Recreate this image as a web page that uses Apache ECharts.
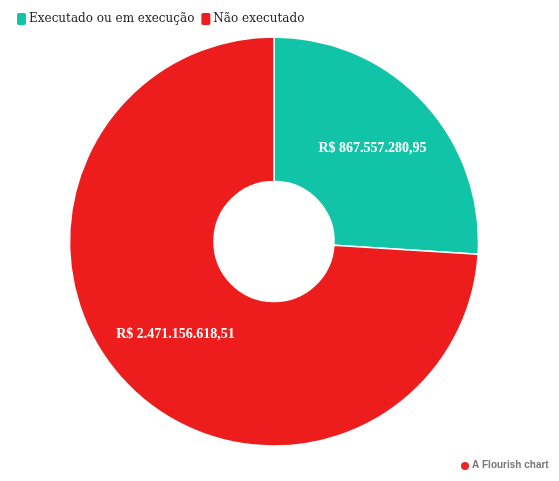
<!DOCTYPE html>
<html>
<head>
<meta charset="utf-8">
<script src="https://cdn.jsdelivr.net/npm/echarts@6/dist/echarts.min.js"></script>
<style>
  html, body { margin: 0; padding: 0; background: #fff; }
  #chart { width: 559px; height: 481px; }
</style>
</head>
<body>
<div id="chart"></div>
<script>
  const categories = ['Executado ou em execução', 'Não executado']
  const values = [867557280.95, 2471156618.51]
  const colors = ['#12c4a7', '#ee1d1d']

  // R$ 1.234.567,89
  function brl (v) {
    const parts = v.toFixed(2).split('.')
    const int = parts[0].replace(/\B(?=(\d{3})+(?!\d))/g, '.')
    return 'R$ ' + int + ',' + parts[1]
  }

  const chart = echarts.init(document.getElementById('chart'))
  const option = {
    animation: false,
    color: colors,
    legend: {
      left: 15,
      top: 11,
      padding: 0,
      icon: 'roundRect',
      itemWidth: 11,
      itemHeight: 14,
      itemGap: 5,
      textStyle: {
        fontFamily: 'DejaVu Serif',
        fontSize: 12,
        color: '#222',
        padding: [0, 0, 0, -3],
      },
      data: categories,
    },
    graphic: [
      {
        type: 'circle',
        shape: { cx: 465, cy: 466, r: 4 },
        style: { fill: '#e8262a' },
      },
      {
        type: 'text',
        left: 472,
        top: 460,
        style: {
          text: 'A Flourish chart',
          fontFamily: 'Liberation Sans',
          fontSize: 10,
          fontWeight: 'bold',
          fill: '#777',
        },
      },
    ],
    series: [{
      type: 'pie',
      center: [274, 241.5],
      radius: [60, 204.5],
      startAngle: 90,
      clockwise: true,
      itemStyle: {
        borderColor: '#fff',
        borderWidth: 1.5,
      },
      label: {
        position: 'inside',
        formatter: p => brl(p.value),
        color: '#fff',
        fontFamily: 'Liberation Serif',
        fontWeight: 'bold',
        fontSize: 14,
      },
      labelLine: { show: false },
      emphasis: { disabled: true },
      data: categories.map((c, i) => ({ name: c, value: values[i] })),
    }],
  }
  chart.setOption(option)
</script>
</body>
</html>
